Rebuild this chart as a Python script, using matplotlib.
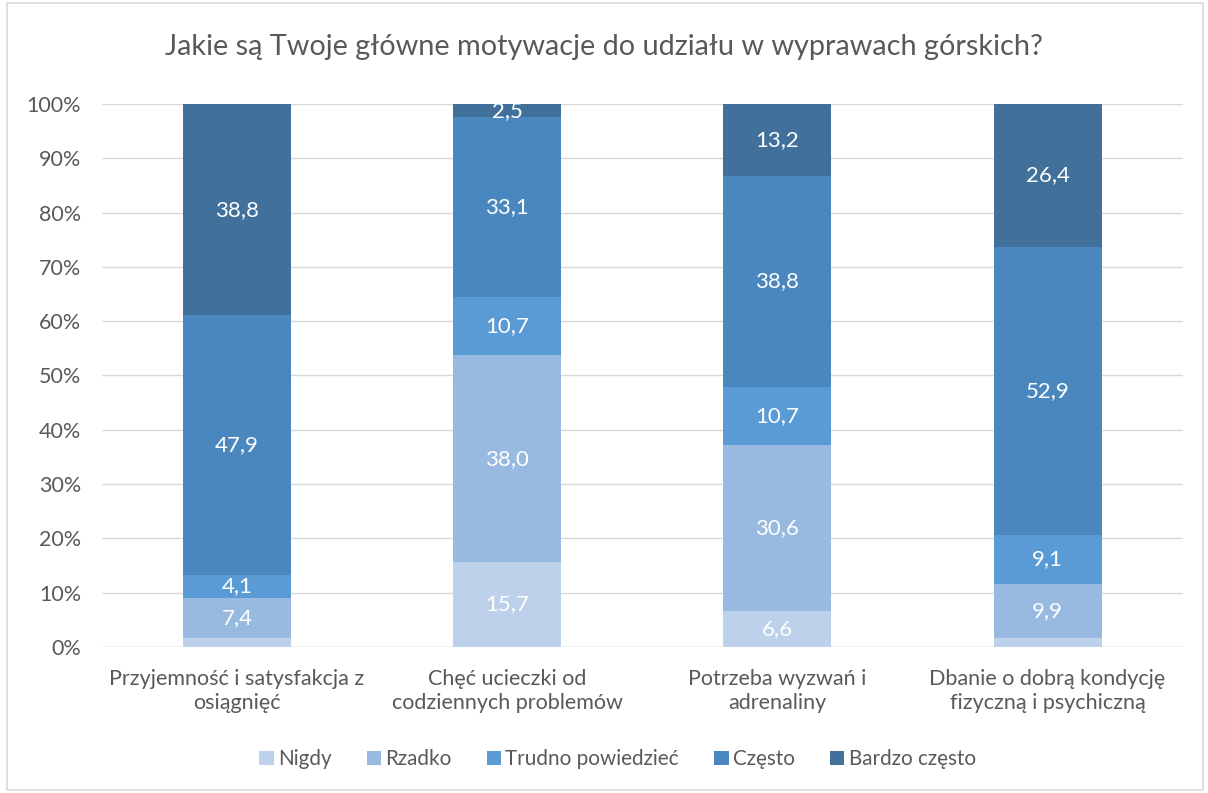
import numpy as np
import matplotlib.pyplot as plt
from matplotlib.patches import Rectangle

plt.rcParams['font.family'] = ['Lato', 'DejaVu Sans']

categories = ["Przyjemność i satysfakcja z\nosiągnięć",
              "Chęć ucieczki od\ncodziennych problemów",
              "Potrzeba wyzwań i\nadrenaliny",
              "Dbanie o dobrą kondycję\nfizyczną i psychiczną"]
series = ["Nigdy", "Rzadko", "Trudno powiedzieć", "Często", "Bardzo często"]
nigdy = [1.7, 15.7, 6.6, 1.7]
rzadko = [7.4, 38.0, 30.6, 9.9]
trudno = [4.1, 10.7, 10.7, 9.1]
czesto = [47.9, 33.1, 38.8, 52.9]
bardzo = [38.8, 2.5, 13.2, 26.4]
colors = ["#BDD1EA", "#98B9E0", "#5A9AD5", "#4A87BE", "#41709A"]

values = [nigdy, rzadko, trudno, czesto, bardzo]
x = np.arange(len(categories))

fig = plt.figure(figsize=(12.08, 7.93), dpi=100)
ax = fig.add_axes([0.0844, 0.184, 0.8946, 0.685])
fig.patches.append(Rectangle((0.006, 0.004), 0.99, 0.992, transform=fig.transFigure,
                             fill=False, edgecolor="#D9D9D9", linewidth=1.2))

bottom = np.zeros(len(categories))
for name, vals, c in zip(series, values, colors):
    vals = np.array(vals)
    ax.bar(x, vals, 0.4, bottom=bottom, color=c, label=name, zorder=3)
    for xi, v, b in zip(x, vals, bottom):
        if v >= 2.5:
            ax.text(xi, b + v / 2, f"{v:.1f}".replace(".", ","), ha="center", va="center",
                    color="white", fontsize=16, zorder=4)
    bottom += vals

ax.set_xlim(-0.5, len(categories) - 0.5)
ax.set_ylim(0, 100)
ax.set_yticks(np.arange(0, 101, 10))
ax.set_yticklabels([f"{t}%" for t in range(0, 101, 10)], fontsize=15.5, color="#595959")
ax.set_xticks(x)
ax.set_xticklabels(categories, fontsize=15.5, color="#595959", linespacing=1.2)
ax.tick_params(axis="y", length=0, pad=15)
ax.tick_params(axis="x", length=0, pad=16)
ax.grid(axis="y", color="#D9D9D9", linewidth=1, zorder=0)
for s in ax.spines.values():
    s.set_visible(False)
ax.axhline(0, color="#D9D9D9", linewidth=1, zorder=2)

fig.suptitle("Jakie są Twoje główne motywacje do udziału w wyprawach górskich?",
             y=0.957, fontsize=20.8, color="#595959")

ax.legend(loc="center", bbox_to_anchor=(0.477, -0.206), ncol=5, frameon=False,
          fontsize=14.9, labelcolor="#595959", handlelength=0.7, handleheight=0.7,
          handletextpad=0.2, columnspacing=1.7)

fig.savefig("out.png", dpi=100)
